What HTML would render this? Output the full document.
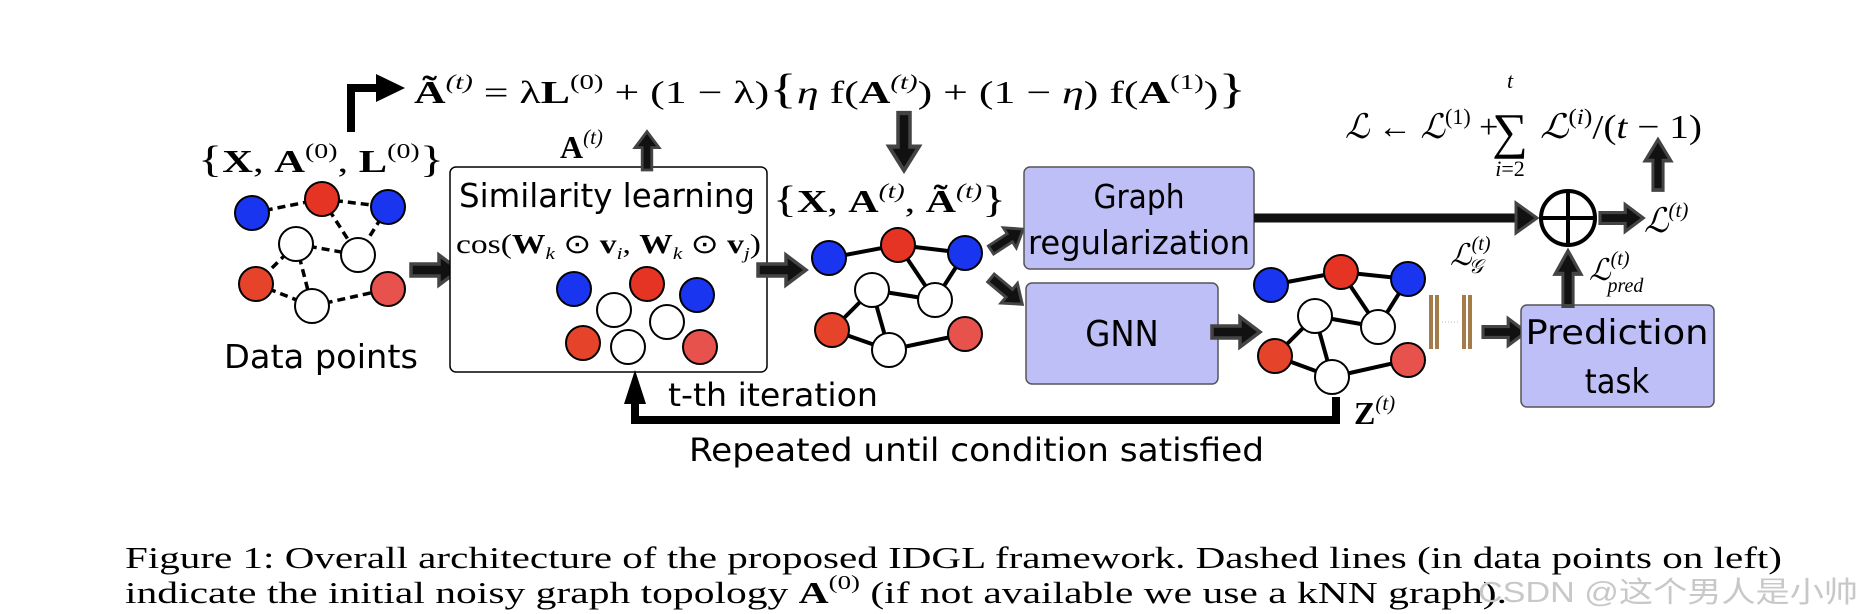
<!DOCTYPE html>
<html><head><meta charset="utf-8"><style>
html,body{margin:0;padding:0;background:#fff;}
svg{display:block;}
.s{font-family:"Liberation Serif",serif;}
.a{font-family:"DejaVu Sans Condensed","Liberation Sans",sans-serif;}
</style></head><body>
<svg width="1876" height="614" viewBox="0 0 1876 614" xmlns="http://www.w3.org/2000/svg">
<defs>
<g id="ar"><polygon points="0,-6 28,-6 28,-15 48,0 28,15 28,6 0,6" fill="#111" stroke="#444" stroke-width="3.5" stroke-linejoin="miter"/></g>
</defs>
<polyline points="351,132 351,88 380,88" fill="none" stroke="#000" stroke-width="8"/>
<polygon points="376,74 405,88 376,102" fill="#000"/>
<text class="s" x="414" y="103" font-size="32" textLength="832" lengthAdjust="spacingAndGlyphs"><tspan font-weight="bold">Ã</tspan><tspan font-size="21" dy="-14" font-style="italic">(t)</tspan><tspan dy="14"> = λ</tspan><tspan font-weight="bold">L</tspan><tspan font-size="21" dy="-14">(0)</tspan><tspan dy="14"> + (1 − λ)</tspan><tspan font-size="42">{</tspan><tspan font-style="italic">η</tspan><tspan> f(</tspan><tspan font-weight="bold">A</tspan><tspan font-size="21" dy="-14" font-style="italic">(t)</tspan><tspan dy="14">) + (1 − </tspan><tspan font-style="italic">η</tspan><tspan>) f(</tspan><tspan font-weight="bold">A</tspan><tspan font-size="21" dy="-14">(1)</tspan><tspan dy="14">)</tspan><tspan font-size="42">}</tspan></text>
<text class="s" x="198" y="172" font-size="32" textLength="246" lengthAdjust="spacingAndGlyphs"><tspan font-size="38">{</tspan><tspan font-weight="bold">X</tspan>, <tspan font-weight="bold">A</tspan><tspan font-size="21" dy="-14">(0)</tspan><tspan dy="14">, </tspan><tspan font-weight="bold">L</tspan><tspan font-size="21" dy="-14">(0)</tspan><tspan dy="14" font-size="38">}</tspan></text>
<g stroke="#000" stroke-width="3.5" stroke-dasharray="8,5" fill="none">
<line x1="252" y1="213" x2="322" y2="199"/><line x1="322" y1="199" x2="388" y2="207"/>
<line x1="322" y1="199" x2="358" y2="255"/><line x1="388" y1="207" x2="358" y2="255"/>
<line x1="296" y1="244" x2="358" y2="255"/><line x1="296" y1="244" x2="256" y2="284"/>
<line x1="296" y1="244" x2="312" y2="306"/><line x1="256" y1="284" x2="312" y2="306"/>
<line x1="312" y1="306" x2="388" y2="289"/>
</g>
<g stroke="#000" stroke-width="2">
<circle cx="252" cy="213" r="17" fill="#1a35f0"/><circle cx="322" cy="199" r="17" fill="#e63424"/>
<circle cx="388" cy="207" r="17" fill="#1a35f0"/><circle cx="296" cy="244" r="17" fill="#fff"/>
<circle cx="358" cy="255" r="17" fill="#fff"/><circle cx="256" cy="284" r="17" fill="#e5432a"/>
<circle cx="388" cy="289" r="17" fill="#e8524c"/><circle cx="312" cy="306" r="17" fill="#fff"/>
</g>
<text class="a" x="224" y="368" font-size="33" textLength="194" lengthAdjust="spacingAndGlyphs">Data points</text>
<use href="#ar" transform="translate(411,270)"/>
<rect x="450" y="167" width="317" height="205" rx="6" fill="#fff" stroke="#000" stroke-width="1.5"/>
<text class="a" x="459" y="207" font-size="33" textLength="296" lengthAdjust="spacingAndGlyphs">Similarity learning</text>
<text class="s" x="456" y="253" font-size="27" textLength="305" lengthAdjust="spacingAndGlyphs">cos(<tspan font-weight="bold">W</tspan><tspan font-size="17" dy="6" font-style="italic">k</tspan><tspan dy="-6"> ⊙ </tspan><tspan font-weight="bold">v</tspan><tspan font-size="17" dy="6" font-style="italic">i</tspan><tspan dy="-6">, </tspan><tspan font-weight="bold">W</tspan><tspan font-size="17" dy="6" font-style="italic">k</tspan><tspan dy="-6"> ⊙ </tspan><tspan font-weight="bold">v</tspan><tspan font-size="17" dy="6" font-style="italic">j</tspan><tspan dy="-6">)</tspan></text>
<g stroke="#000" stroke-width="2">
<circle cx="574" cy="289" r="17" fill="#1a35f0"/><circle cx="647" cy="284" r="17" fill="#e63424"/>
<circle cx="697" cy="295" r="17" fill="#1a35f0"/><circle cx="614" cy="310" r="17" fill="#fff"/>
<circle cx="667" cy="322" r="17" fill="#fff"/><circle cx="583" cy="343" r="17" fill="#e5432a"/>
<circle cx="628" cy="347" r="17" fill="#fff"/><circle cx="700" cy="347" r="17" fill="#e8524c"/>
</g>
<text class="s" x="560" y="158" font-size="32" font-weight="bold">A<tspan font-size="21" dy="-14" font-weight="normal" font-style="italic">(t)</tspan></text>
<use href="#ar" transform="translate(647,170) rotate(-90) scale(0.8)"/>
<use href="#ar" transform="translate(758,270)"/>
<use href="#ar" transform="translate(904,113) rotate(90) scale(1.2,1)"/>
<text class="s" x="773" y="212" font-size="32" textLength="233" lengthAdjust="spacingAndGlyphs"><tspan font-size="38">{</tspan><tspan font-weight="bold">X</tspan>, <tspan font-weight="bold">A</tspan><tspan font-size="21" dy="-14" font-style="italic">(t)</tspan><tspan dy="14">, </tspan><tspan font-weight="bold">Ã</tspan><tspan font-size="21" dy="-14" font-style="italic">(t)</tspan><tspan dy="14" font-size="38">}</tspan></text>
<g stroke="#000" stroke-width="4" fill="none">
<line x1="829" y1="258" x2="898" y2="245"/><line x1="898" y1="245" x2="965" y2="253"/>
<line x1="898" y1="245" x2="935" y2="300"/><line x1="965" y1="253" x2="935" y2="300"/>
<line x1="872" y1="290" x2="935" y2="300"/><line x1="872" y1="290" x2="832" y2="330"/>
<line x1="872" y1="290" x2="889" y2="350"/><line x1="832" y1="330" x2="889" y2="350"/>
<line x1="889" y1="350" x2="965" y2="334"/>
</g>
<g stroke="#000" stroke-width="2">
<circle cx="829" cy="258" r="17" fill="#1a35f0"/><circle cx="898" cy="245" r="17" fill="#e63424"/>
<circle cx="965" cy="253" r="17" fill="#1a35f0"/><circle cx="872" cy="290" r="17" fill="#fff"/>
<circle cx="935" cy="300" r="17" fill="#fff"/><circle cx="832" cy="330" r="17" fill="#e5432a"/>
<circle cx="889" cy="350" r="17" fill="#fff"/><circle cx="965" cy="334" r="17" fill="#e8524c"/>
</g>
<use href="#ar" transform="translate(991,250) rotate(-33) scale(0.8)"/>
<use href="#ar" transform="translate(991,278) rotate(40) scale(0.85)"/>
<rect x="1024" y="167" width="230" height="102" rx="6" fill="#bfbff7" stroke="#555" stroke-width="1.5"/>
<text class="a" x="1139" y="208" font-size="33" text-anchor="middle">Graph</text>
<text class="a" x="1139" y="254" font-size="33" text-anchor="middle" textLength="222" lengthAdjust="spacingAndGlyphs">regularization</text>
<rect x="1026" y="283" width="192" height="101" rx="6" fill="#bfbff7" stroke="#555" stroke-width="1.5"/>
<text class="a" x="1122" y="346" font-size="36" text-anchor="middle">GNN</text>
<use href="#ar" transform="translate(1212,332)"/>
<g stroke="#000" stroke-width="4" fill="none">
<line x1="1271" y1="285" x2="1341" y2="272"/><line x1="1341" y1="272" x2="1408" y2="279"/>
<line x1="1341" y1="272" x2="1378" y2="327"/><line x1="1408" y1="279" x2="1378" y2="327"/>
<line x1="1315" y1="316" x2="1378" y2="327"/><line x1="1315" y1="316" x2="1275" y2="356"/>
<line x1="1315" y1="316" x2="1332" y2="377"/><line x1="1275" y1="356" x2="1332" y2="377"/>
<line x1="1332" y1="377" x2="1408" y2="360"/>
</g>
<g stroke="#000" stroke-width="2">
<circle cx="1271" cy="285" r="17" fill="#1a35f0"/><circle cx="1341" cy="272" r="17" fill="#e63424"/>
<circle cx="1408" cy="279" r="17" fill="#1a35f0"/><circle cx="1315" cy="316" r="17" fill="#fff"/>
<circle cx="1378" cy="327" r="17" fill="#fff"/><circle cx="1275" cy="356" r="17" fill="#e5432a"/>
<circle cx="1332" cy="377" r="17" fill="#fff"/><circle cx="1408" cy="360" r="17" fill="#e8524c"/>
</g>
<g fill="#a47c4a"><rect x="1429" y="295" width="4" height="54"/><rect x="1435" y="295" width="4" height="54"/><rect x="1462" y="295" width="4" height="54"/><rect x="1468" y="295" width="4" height="54"/></g>
<line x1="1442" y1="322" x2="1459" y2="322" stroke="#bbb" stroke-width="1" stroke-dasharray="1,2"/>
<use href="#ar" transform="translate(1483,332) scale(0.9)"/>
<rect x="1521" y="305" width="193" height="102" rx="6" fill="#bfbff7" stroke="#555" stroke-width="1.5"/>
<text class="a" x="1617" y="344" font-size="34" text-anchor="middle" textLength="183" lengthAdjust="spacingAndGlyphs">Prediction</text>
<text class="a" x="1617" y="393" font-size="34" text-anchor="middle">task</text>
<text class="s" x="1354" y="424" font-size="32" font-weight="bold">Z<tspan font-size="21" dy="-14" font-weight="normal" font-style="italic">(t)</tspan></text>
<polyline points="1336,397 1336,420 635,420 635,400" fill="none" stroke="#000" stroke-width="8"/>
<polygon points="624,404 635,370 646,404" fill="#000"/>
<text class="a" x="668" y="406" font-size="32" textLength="210" lengthAdjust="spacingAndGlyphs">t-th iteration</text>
<text class="a" x="689" y="461" font-size="32" textLength="575" lengthAdjust="spacingAndGlyphs">Repeated until condition satisfied</text>
<line x1="1254" y1="218" x2="1520" y2="218" stroke="#111" stroke-width="9"/>
<polygon points="1516,203 1537,218 1516,233" fill="#111" stroke="#444" stroke-width="3"/>
<circle cx="1568" cy="218" r="27" fill="#fff" stroke="#000" stroke-width="4"/>
<line x1="1541" y1="218" x2="1595" y2="218" stroke="#000" stroke-width="4"/>
<line x1="1568" y1="191" x2="1568" y2="245" stroke="#000" stroke-width="4"/>
<use href="#ar" transform="translate(1600,218) scale(0.9)"/>
<text class="s" x="1644" y="232" font-size="34" font-style="italic">ℒ<tspan font-size="21" dy="-15">(t)</tspan></text>
<use href="#ar" transform="translate(1568,306) rotate(-90) scale(1.15,0.85)"/>
<text class="s" x="1589" y="280" font-size="30" font-style="italic">ℒ<tspan font-size="20" dy="-15">(t)</tspan><tspan font-size="20" dx="-22" dy="27">pred</tspan></text>
<text class="s" x="1450" y="265" font-size="30" font-style="italic">ℒ<tspan font-size="20" dy="-15">(t)</tspan><tspan font-size="20" dx="-22" dy="23">𝒢</tspan></text>
<use href="#ar" transform="translate(1658,190) rotate(-90) scale(1.05,0.85)"/>
<text class="s" x="1345" y="138" font-size="34" font-style="italic">ℒ<tspan font-style="normal"> ← </tspan>ℒ<tspan font-size="22" dy="-14" font-style="normal">(1)</tspan><tspan dy="14" font-style="normal"> + </tspan></text>
<text class="s" x="1510" y="148" font-size="50" text-anchor="middle">∑</text>
<text class="s" x="1510" y="88" font-size="22" font-style="italic" text-anchor="middle">t</text>
<text class="s" x="1510" y="176" font-size="22" text-anchor="middle"><tspan font-style="italic">i</tspan>=2</text>
<text class="s" x="1540" y="138" font-size="34" font-style="italic" textLength="162" lengthAdjust="spacingAndGlyphs">ℒ<tspan font-size="22" dy="-14" font-style="normal">(</tspan><tspan font-size="22">i</tspan><tspan font-size="22" font-style="normal">)</tspan><tspan dy="14" font-style="normal">/(</tspan>t<tspan font-style="normal"> − 1)</tspan></text>
<text class="s" x="125" y="568" font-size="31" textLength="1657" lengthAdjust="spacingAndGlyphs">Figure 1: Overall architecture of the proposed IDGL framework. Dashed lines (in data points on left)</text>
<text class="s" x="125" y="603" font-size="31" textLength="1382" lengthAdjust="spacingAndGlyphs">indicate the initial noisy graph topology <tspan font-weight="bold">A</tspan><tspan font-size="20" dy="-14">(0)</tspan><tspan dy="14"> (if not available we use a kNN graph).</tspan></text>
<text x="1478" y="602" font-size="29" fill="#c8c8c8" font-family="'Liberation Sans','Noto Sans CJK SC',sans-serif" textLength="380" lengthAdjust="spacingAndGlyphs">CSDN @这个男人是小帅</text>
</svg>
</body></html>
